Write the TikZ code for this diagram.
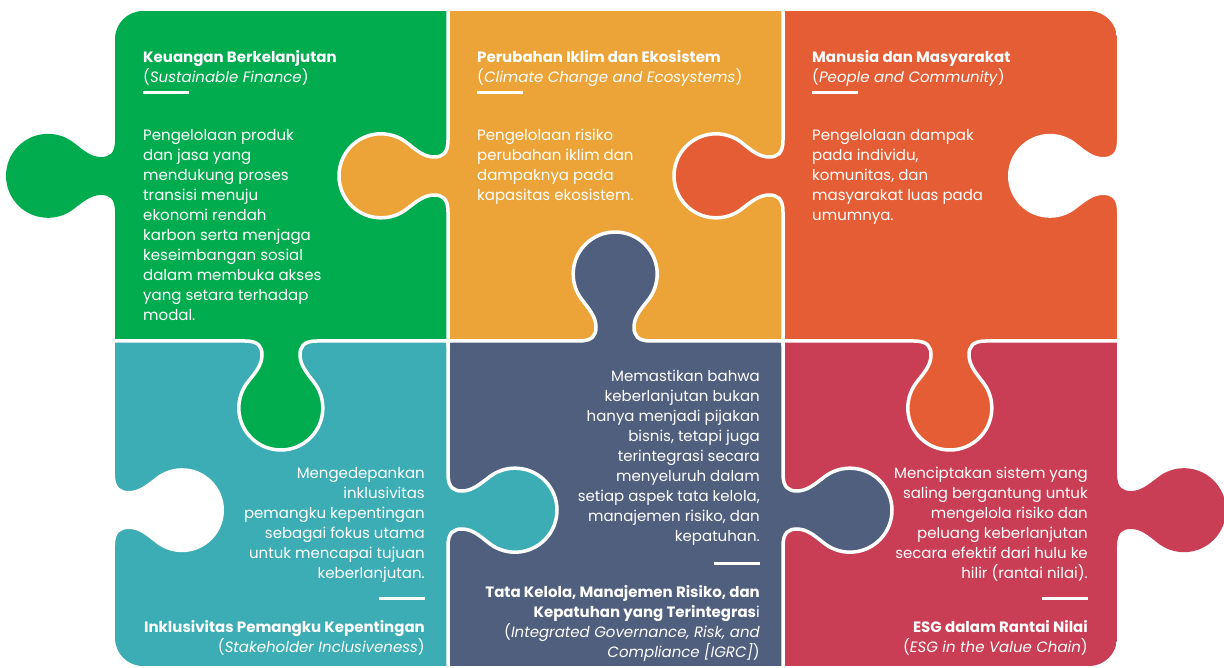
\documentclass[tikz,border=0pt]{standalone}
\usepackage{fontspec}
\setmainfont{Poppins}
\usetikzlibrary{positioning}

\definecolor{kgreen}{RGB}{0,172,78}
\definecolor{korange}{RGB}{236,164,56}
\definecolor{kred}{RGB}{228,93,52}
\definecolor{kteal}{RGB}{60,173,181}
\definecolor{kslate}{RGB}{81,95,126}
\definecolor{kcrimson}{RGB}{201,62,84}

\begin{document}
\begin{tikzpicture}[
  x=1pt, y=-1pt,
  seam/.style={draw=white, line width=3.5pt},
  tabshape/.style={insert path={.. controls (0,-22) and (6,-19) .. (14,-19)
      .. controls (24,-19) and (32,-26) .. (40,-32)
      arc[start angle=-130, end angle=130, radius=42]
      .. controls (32,26) and (24,19) .. (14,19)
      .. controls (6,19) and (0,22) .. (0,36)}},
  head/.style={inner sep=0pt, text=white, font=\fontsize{15}{20}\selectfont},
  body/.style={inner sep=0pt, text=white, font=\fontsize{15}{20}\selectfont},
  bar/.style={draw=white, line width=3pt}
]
  \useasboundingbox (0,0) rectangle (1224,668);

  % the six pieces
  \begin{scope}
    \clip[rounded corners=28] (115,11) rectangle (1117,666);
    \fill[kgreen]   (115,11)  rectangle (448,341);
    \fill[korange]  (448,11)  rectangle (783,341);
    \fill[kred]     (783,11)  rectangle (1117,341);
    \fill[kteal]    (115,341) rectangle (448,666);
    \fill[kslate]   (448,341) rectangle (783,666);
    \fill[kcrimson] (783,341) rectangle (1117,666);
  \end{scope}

  % tabs and holes: centre / direction / colour
  \foreach \cx/\cy/\rot/\col in {115/176/180/kgreen, 448/176/180/korange,
      783/176/180/kred, 1117/176/180/white, 115/510/0/white, 448/510/0/kteal,
      783/510/0/kslate, 1117/510/0/kcrimson, 281/341/-90/kgreen,
      615/341/90/kslate, 950/341/-90/kred}
    \fill[\col, shift={(\cx,\cy)}, rotate=\rot] (0,-36) [tabshape];

  % white seams between pieces
  \foreach \cx/\cy/\rot in {448/176/180, 783/176/180, 448/510/0, 783/510/0,
      281/341/-90, 615/341/90, 950/341/-90}
    \draw[seam, shift={(\cx,\cy)}, rotate=\rot] (0,-170) -- (0,-36) [tabshape] -- (0,170);

  % top row
  \node (greenhead) [head, anchor=north west, align=left] at (143,50)
    {\textbf{Keuangan Berkelanjutan}\\(\textit{Sustainable Finance})};
  \draw[bar] (143,93) -- (189,93);
  \node (greentext) [body, anchor=north west, align=left] at (143,129)
    {Pengelolaan produk\\dan jasa yang\\mendukung proses\\transisi menuju\\
     ekonomi rendah\\karbon serta menjaga\\keseimbangan sosial\\
     dalam membuka akses\\yang setara terhadap\\modal.};

  \node (orangehead) [head, anchor=north west, align=left] at (477,50)
    {\textbf{Perubahan Iklim dan Ekosistem}\\(\textit{Climate Change and Ecosystems})};
  \draw[bar] (477,93) -- (523,93);
  \node (orangetext) [body, anchor=north west, align=left] at (477,129)
    {Pengelolaan risiko\\perubahan iklim dan\\dampaknya pada\\kapasitas ekosistem.};

  \node (redhead) [head, anchor=north west, align=left] at (812,50)
    {\textbf{Manusia dan Masyarakat}\\(\textit{People and Community})};
  \draw[bar] (812,93) -- (858,93);
  \node (redtext) [body, anchor=north west, align=left] at (812,129)
    {Pengelolaan dampak\\pada individu,\\komunitas, dan\\masyarakat luas pada\\umumnya.};

  % bottom row
  \node (tealtext) [body, anchor=north east, align=right] at (425,467)
    {Mengedepankan\\inklusivitas\\pemangku kepentingan\\sebagai fokus utama\\
     untuk mencapai tujuan\\keberlanjutan.};
  \draw[bar] (379,598) -- (425,598);
  \node (tealhead) [head, anchor=north east, align=right] at (425,620)
    {\textbf{Inklusivitas Pemangku Kepentingan}\\(\textit{Stakeholder Inclusiveness})};

  \node (slatetext) [body, anchor=north east, align=right] at (760,370)
    {Memastikan bahwa\\keberlanjutan bukan\\hanya menjadi pijakan\\bisnis, tetapi juga\\
     terintegrasi secara\\menyeluruh dalam\\setiap aspek tata kelola,\\
     manajemen risiko, dan\\kepatuhan.};
  \draw[bar] (714,563) -- (760,563);
  \node (slatehead) [head, anchor=north east, align=right] at (760,585)
    {\textbf{Tata Kelola, Manajemen Risiko, dan}\\\textbf{Kepatuhan yang Terintegras}i\\
     (\textit{Integrated Governance, Risk, and}\\\textit{Compliance [IGRC]})};

  \node (crimsontext) [body, anchor=north east, align=right] at (1088,467)
    {Menciptakan sistem yang\\saling bergantung untuk\\mengelola risiko dan\\
     peluang keberlanjutan\\secara efektif dari hulu ke\\hilir (rantai nilai).};
  \draw[bar] (1042,598) -- (1088,598);
  \node (crimsonhead) [head, anchor=north east, align=right] at (1088,620)
    {\textbf{ESG dalam Rantai Nilai}\\(\textit{ESG in the Value Chain})};
\end{tikzpicture}
\end{document}
